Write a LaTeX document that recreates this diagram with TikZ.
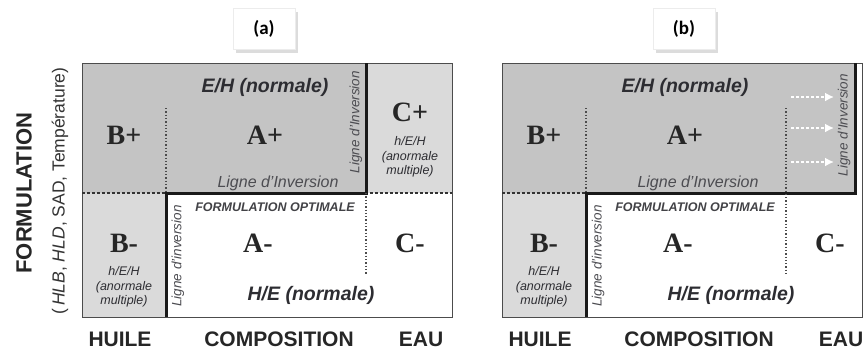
\documentclass[tikz,border=0pt]{standalone}
\usepackage{fontspec}
\setmainfont{Liberation Sans}
\newfontfamily\zonefont{Liberation Serif}
\newfontfamily\tagfont{Carlito}
\usepackage{tikz}
\usetikzlibrary{arrows.meta, shadows}
\definecolor{EHGray}{RGB}{196,196,196}
\definecolor{AnoGray}{RGB}{218,218,218}
\definecolor{InkGray}{RGB}{45,45,50}

\tikzset{
  zone/.style={font=\zonefont\bfseries\fontsize{28}{28}\selectfont, text=black!85},
  phase/.style={font=\bfseries\itshape\fontsize{19.5}{19.5}\selectfont, text=InkGray},
  optlbl/.style={font=\bfseries\itshape\fontsize{12.5}{12.5}\selectfont, text=InkGray!90},
  invlbl/.style={font=\itshape\fontsize{16}{16}\selectfont, text=InkGray!85},
  invrot/.style={font=\itshape\fontsize{13.5}{13.5}\selectfont, rotate=90, text=InkGray!85},
  anorm/.style={font=\itshape\fontsize{12.5}{14.5}\selectfont, align=center, text=InkGray},
  axlbl/.style={font=\bfseries\fontsize{21}{21}\selectfont, text=black!85},
  panellbl/.style={font=\tagfont\bfseries\fontsize{19}{19}\selectfont, fill=white,
    draw=gray!15, minimum width=62pt, minimum height=41pt,
    drop shadow={shadow xshift=3pt, shadow yshift=-3pt, fill=gray!55}},
  border/.style={draw=black!70, line width=1pt},
  invline/.style={line width=3pt, black!90},
  sepdash/.style={dash pattern=on 3pt off 2pt, line width=1.1pt, black!80},
  sepdot/.style={dotted, line width=1.3pt, black!70},
  shiftarr/.style={white, dash pattern=on 2.5pt off 2.5pt, line width=2.8pt,
    -{Latex[length=9pt,width=9pt]}}
}

\begin{document}
\begin{tikzpicture}[x=1pt, y=-1pt]
  \useasboundingbox (0,0) rectangle (866,349);

  % panel (a): C+ corner, also abnormal
  \fill[AnoGray] (366,63) rectangle (452,193);

  % both panels share the same grid
  \foreach \p/\ox/\tx/\rx in {a/0/366/452, b/420/435/442} {
    \begin{scope}[xshift=\ox pt]
      \fill[EHGray] (82,63) rectangle (\tx,193);
      \fill[AnoGray] (82,193) rectangle (166,317);
      \draw[border] (82,63) rectangle (\rx,317);
      \draw[sepdash] (82,193) -- (166,193);
      \draw[sepdot] (166,108) -- (166,193);
      \draw[invline] (166,317) -- (166,193) -- (\tx,193) -- (\tx,63);

      \node[panellbl] (tag-\p) at (264,29) {(\p)};
      \node[phase] (eh-\p) at (265,87) {E/H (normale)};
      \node[zone] (Bplus-\p) at (124,135) {B+};
      \node[zone] (Aplus-\p) at (265,135) {A+};
      \node[invlbl] (invh-\p) at (278,183) {Ligne d'Inversion};
      \node[optlbl] (opt-\p) at (275,207) {FORMULATION OPTIMALE};
      \node[zone] (Bminus-\p) at (124,243) {B-};
      \node[zone] (Aminus-\p) at (258,243) {A-};
      \node[anorm] (anoB-\p) at (124,287) {h/E/H\\(anormale\\multiple)};
      \node[invrot] (invl-\p) at (178,256) {Ligne d'inversion};
      \node[phase] (he-\p) at (311,295) {H/E (normale)};

      \node[axlbl] (huile-\p) at (120,339) {HUILE};
      \node[axlbl] (compo-\p) at (279,339) {COMPOSITION};
      \node[axlbl] (eau-\p) at (421,339) {EAU};
    \end{scope}
  }

  % panel (a): inversion line between A and C
  \draw[sepdash] (370,193) -- (452,193);
  \draw[sepdot] (366,193) -- (366,275);
  \node[zone] (Cplus-a) at (410,112) {C+};
  \node[anorm] (anoC-a) at (410,157) {h/E/H\\(anormale\\multiple)};
  \node[invrot] (invr-a) at (356,122) {Ligne d'Inversion};
  \node[zone] (Cminus-a) at (410,243) {C-};

  % panel (b): inversion line pushed towards water
  \draw[sepdot] (786,108) -- (786,275);
  \node[invrot] (invr-b) at (844,125) {Ligne d'Inversion};
  \node[zone] (Cminus-b) at (830,243) {C-};
  \foreach \k/\yy in {1/97, 2/128, 3/162} {
    \coordinate (from\k) at (791,\yy);
    \coordinate (to\k) at (834,\yy);
    \draw[shiftarr] (from\k) -- (to\k);
  }

  % vertical axis
  \node[axlbl, rotate=90, font=\bfseries\fontsize{22}{22}\selectfont] (formul) at (24,193) {FORMULATION};
  \node[rotate=90, font=\fontsize{17.5}{17.5}\selectfont, text=black!80] (vars) at (60,191)
        {(\,\textit{HLB}, \textit{HLD}, SAD, Température)};
\end{tikzpicture}
\end{document}
